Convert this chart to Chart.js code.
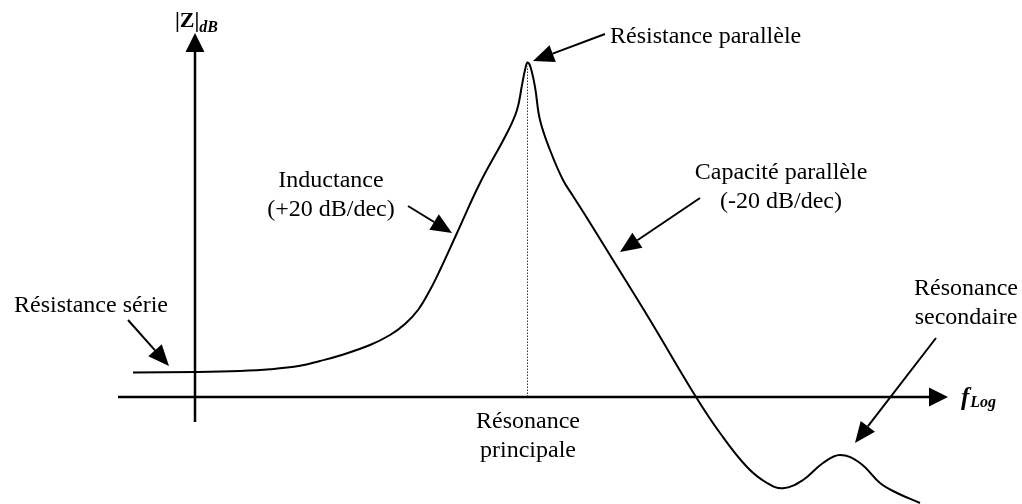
<!DOCTYPE html>
<html>
<head>
<meta charset="utf-8">
<title>|Z| en fonction de la fréquence</title>
<script src="https://cdn.jsdelivr.net/npm/chart.js@4.4.0/dist/chart.umd.min.js"></script>
<style>
  html, body { margin: 0; padding: 0; background: #fff; }
  #wrap { width: 1022px; height: 504px; position: relative; }
</style>
</head>
<body>
<div id="wrap"><canvas id="impedance"></canvas></div>
<script>
// log frequency (decades, arbitrary origin) vs |Z| in dB
var logFreq = [-0.62, 0.01, 0.45, 0.75, 1.05, 1.25, 1.45, 1.75, 1.95, 2.10, 2.23, 2.35, 2.45, 2.62, 2.85, 3.12,
               3.22, 3.27, 3.30, 3.325, 3.355, 3.40, 3.45, 3.55, 3.68, 3.78, 3.92, 4.18, 4.55, 5.01,
               5.25, 5.52, 5.72, 5.88, 6.08, 6.28, 6.45, 6.65, 6.85, 7.02, 7.25];
var zDb = [2.45, 2.5, 2.6, 2.77, 3.12, 3.6, 4.15, 5.2, 6.2, 7.3, 8.7, 10.7, 12.7, 16.4, 21.4, 26.4,
           28.7, 31.2, 32.7, 33.45, 33.0, 31.0, 27.7, 24.7, 21.7, 20.1, 17.9, 13.7, 7.7, 0,
           -3.6, -7.0, -8.6, -9.13, -8.3, -6.6, -5.8, -6.6, -8.6, -9.6, -10.6];

var mainResonance = 3.325;
var peakDb = 33.45;

var xRange = [-1.95, 8.27];
var yRange = [-10.7, 39.7];

// axes with arrow heads
var axes = [
  { from: [-0.77, 0], to: [7.53, 0] },
  { from: [0, -2.5], to: [0, 36.4] }
];

// pointer arrows towards the curve
var pointers = [
  { from: [4.10, 36.3], to: [3.38, 33.6] },
  { from: [2.13, 19.1], to: [2.57, 16.4] },
  { from: [5.05, 19.9], to: [4.25, 14.5] },
  { from: [-0.67, 7.7], to: [-0.26, 3.1] },
  { from: [7.41, 5.9], to: [6.60, -4.6] }
];

var notes = [
  { lines: ['Résistance parallèle'], at: [4.15, 35.4], align: 'left' },
  { lines: ['Inductance', '(+20 dB/dec)'], at: [1.36, 21.0], align: 'center' },
  { lines: ['Capacité parallèle', '(-20 dB/dec)'], at: [5.86, 21.8], align: 'center' },
  { lines: ['Résistance série'], at: [-1.04, 8.5], align: 'center' },
  { lines: ['Résonance', 'principale'], at: [mainResonance + 0.005, -3.1], align: 'center' },
  { lines: ['Résonance', 'secondaire'], at: [7.71, 10.2], align: 'center' }
];

function drawArrow(ctx, x1, y1, x2, y2, len, half, width) {
  var a = Math.atan2(y2 - y1, x2 - x1);
  var bx = x2 - len * Math.cos(a), by = y2 - len * Math.sin(a);
  ctx.lineWidth = width;
  ctx.beginPath();
  ctx.moveTo(x1, y1);
  ctx.lineTo(bx, by);
  ctx.stroke();
  ctx.beginPath();
  ctx.moveTo(x2, y2);
  ctx.lineTo(bx + half * Math.sin(a), by - half * Math.cos(a));
  ctx.lineTo(bx - half * Math.sin(a), by + half * Math.cos(a));
  ctx.closePath();
  ctx.fill();
}

var sketchPlugin = {
  id: 'sketch',
  afterDatasetsDraw: function(chart) {
    var ctx = chart.ctx, sx = chart.scales.x, sy = chart.scales.y;
    function px(p) { return [sx.getPixelForValue(p[0]), sy.getPixelForValue(p[1])]; }
    ctx.save();
    ctx.strokeStyle = '#000';
    ctx.fillStyle = '#000';
    ctx.lineCap = 'butt';

    axes.forEach(function(ax) {
      var a = px(ax.from), b = px(ax.to);
      drawArrow(ctx, a[0], a[1], b[0], b[1], 19, 9.5, 2.5);
    });
    pointers.forEach(function(p) {
      var a = px(p.from), b = px(p.to);
      drawArrow(ctx, a[0], a[1], b[0], b[1], 21, 9, 2);
    });

    ctx.font = '24px "Liberation Serif", "Times New Roman", serif';
    ctx.textBaseline = 'alphabetic';
    notes.forEach(function(n) {
      var p = px(n.at);
      ctx.textAlign = n.align;
      n.lines.forEach(function(t, i) { ctx.fillText(t, p[0], p[1] + i * 29); });
    });

    // axis titles: |Z|dB and fLog
    ctx.textAlign = 'left';
    var zt = px([-0.2, 37.0]);
    ctx.font = 'bold 22px "Liberation Serif", serif';
    ctx.fillText('|Z|', zt[0], zt[1]);
    var zw = ctx.measureText('|Z|').width;
    ctx.font = 'bold italic 16px "Liberation Serif", serif';
    ctx.fillText('dB', zt[0] + zw, zt[1] + 5);

    var ft = px([7.66, -0.8]);
    ctx.font = 'bold italic 25px "Liberation Serif", serif';
    ctx.fillText('f', ft[0], ft[1]);
    var fw = ctx.measureText('f').width;
    ctx.font = 'bold italic 16px "Liberation Serif", serif';
    ctx.fillText('Log', ft[0] + fw + 1, ft[1] + 2);
    ctx.restore();
  }
};

new Chart(document.getElementById('impedance'), {
  type: 'line',
  data: {
    datasets: [
      {
        label: '|Z|',
        data: logFreq.map(function(f, i) { return { x: f, y: zDb[i] }; }),
        borderColor: '#000',
        borderWidth: 2,
        pointRadius: 0,
        tension: 0.4,
        fill: false
      },
      {
        label: 'résonance principale',
        data: [{ x: mainResonance, y: 0 }, { x: mainResonance, y: peakDb - 0.4 }],
        borderColor: '#333',
        borderWidth: 1,
        borderDash: [1.5, 1.5],
        pointRadius: 0,
        fill: false
      }
    ]
  },
  options: {
    responsive: true,
    maintainAspectRatio: false,
    animation: false,
    layout: { padding: 0 },
    plugins: { legend: { display: false }, tooltip: { enabled: false } },
    scales: {
      x: { type: 'linear', display: false, min: xRange[0], max: xRange[1] },
      y: { type: 'linear', display: false, min: yRange[0], max: yRange[1] }
    }
  },
  plugins: [sketchPlugin]
});
</script>
</body>
</html>
